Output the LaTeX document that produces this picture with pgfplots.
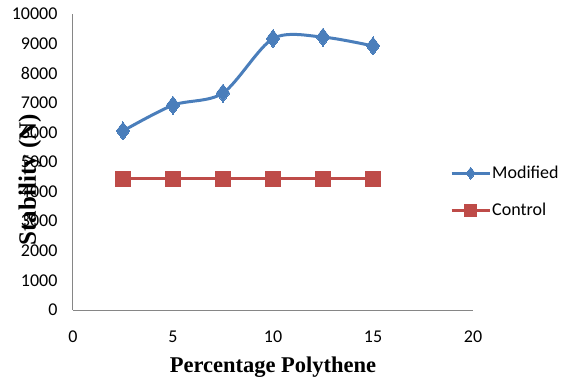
\documentclass[border=0pt]{standalone}
\usepackage{pgfplots}
\pgfplotsset{compat=1.18}
\usepackage{fontspec}
\setmainfont{Carlito}
\newfontfamily\timesf{Liberation Serif}
\definecolor{modblue}{HTML}{4A7EBB}
\definecolor{conred}{HTML}{BE4B48}
\definecolor{axgray}{HTML}{868686}
\begin{document}
\begin{tikzpicture}[x=1pt,y=1pt]
\path[use as bounding box] (0,0) rectangle (563,381);
\begin{axis}[
  at={(73pt,71pt)}, anchor=south west,
  scale only axis, width=400pt, height=296pt,
  xmin=0, xmax=20, ymin=0, ymax=10000,
  xtick={0,5,10,15,20},
  ytick={0,1000,...,10000},
  axis x line*=bottom, axis y line*=left,
  axis line style={-, axgray, line width=1pt},
  major tick length=0pt,
  /pgf/number format/assume math mode=true,
  scaled y ticks=false,
  yticklabel style={/pgf/number format/1000 sep={}, font=\fontsize{18}{20}\selectfont, anchor=east, xshift=-12pt},
  xticklabel style={font=\fontsize{18}{20}\selectfont, anchor=north, yshift=-17pt},
  xlabel={\timesf\bfseries Percentage Polythene},
  ylabel={\timesf\bfseries Stability (N)},
  xlabel style={font=\fontsize{22.5}{24}\selectfont, at={(axis description cs:0.5,0)}, anchor=center, yshift=-57pt},
  ylabel style={font=\fontsize{25}{26}\selectfont, at={(axis description cs:0,0.44)}, anchor=center, yshift=43pt},
  legend style={draw=none, fill=none, inner sep=0pt, font=\fontsize{18}{20}\selectfont, at={(axis description cs:0.9425,0.49)}, anchor=north west, row sep=21pt, nodes={inner sep=1pt}},
  legend cell align=left,
  legend image code/.code={\draw[#1,mark repeat=2,mark phase=2,mark size=6pt] plot coordinates {(0pt,0pt) (19pt,0pt) (38pt,0pt)};},
  clip=false,
]
\addplot[modblue, line width=3pt, smooth, mark=diamond*, mark size=9pt, mark options={solid, fill=modblue, line width=0pt}]
  coordinates {(2.5,6050) (5,6920) (7.5,7330) (10,9170) (12.5,9220) (15,8920)};
\addlegendentry{Modified}
\addplot[conred, line width=3pt, mark=square*, mark size=7.3pt, mark options={solid, fill=conred, line width=0pt}]
  coordinates {(2.5,4430) (5,4430) (7.5,4430) (10,4430) (12.5,4430) (15,4430)};
\addlegendentry{Control}
\end{axis}
\end{tikzpicture}
\end{document}
